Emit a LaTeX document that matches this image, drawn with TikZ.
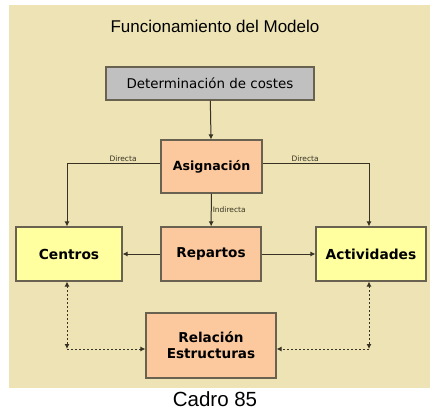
\documentclass[tikz,border=0pt]{standalone}
\usepackage{fontspec}
\setmainfont{DejaVu Sans}
\newfontfamily\arialFont{Liberation Sans}
\usetikzlibrary{arrows.meta}

\definecolor{bgColor}{RGB}{237,227,180}
\definecolor{grayColor}{RGB}{192,192,192}
\definecolor{peachColor}{RGB}{252,201,158}
\definecolor{yellowColor}{RGB}{255,255,160}
\definecolor{edgeColor}{RGB}{105,98,80}
\definecolor{lineColor}{RGB}{55,50,35}

\tikzset{
  box/.style={draw=edgeColor, line width=1.1pt, align=center, inner sep=0pt},
  costBox/.style={box, fill=grayColor, font=\fontsize{13.4}{16}\selectfont},
  peachBox/.style={box, fill=peachColor, font=\fontsize{13.6}{16}\selectfont\bfseries},
  yellowBox/.style={box, fill=yellowColor, font=\fontsize{13.8}{16}\selectfont\bfseries},
  smallLabel/.style={font=\fontsize{7.5}{9}\selectfont, text=lineColor, inner sep=1pt},
  arr/.style={draw=lineColor, line width=1pt, ->},
  dotArr/.style={arr, dash pattern=on 2pt off 2pt},
  >={Latex[length=5pt,width=5pt]}
}

\begin{document}
\begin{tikzpicture}[x=1pt, y=-1pt]
  \useasboundingbox (0,0) rectangle (430,414);
  \fill[bgColor] (9,5) rectangle (430,388);
  % Titles
  \node (title) at (215,26) {\arialFont\fontsize{17}{20}\selectfont Funcionamiento del Modelo};
  \node (caption) at (215,399) {\arialFont\fontsize{20.5}{24}\selectfont Cadro 85};
  % Boxes
  \node[costBox, minimum width=208pt, minimum height=33pt] (costes) at (210,83.5) {Determinación de costes};
  \node[peachBox, minimum width=101pt, minimum height=53pt, font=\fontsize{12.6}{15}\selectfont\bfseries] (asig) at (211.5,166.5) {Asignación};
  \node[yellowBox, minimum width=106pt, minimum height=54pt] (centros) at (69,254) {Centros};
  \node[peachBox, minimum width=100pt, minimum height=54pt] (repartos) at (211,254) {Repartos};
  \node[yellowBox, minimum width=110pt, minimum height=54pt] (activ) at (371,254) {Actividades};
  \node[peachBox, minimum width=130pt, minimum height=65pt] (relacion) at (211,345.5) {Relación\\Estructuras};
  % Corners
  \coordinate (dirL) at (67,163);
  \coordinate (dirR) at (369,163);
  \coordinate (cornerL) at (67,349);
  \coordinate (cornerR) at (369,349);
  % Arrows
  \draw[arr] (costes) -- (asig);
  \draw[arr] (asig) -- node[smallLabel, right]{Indirecta} (repartos);
  \draw[arr] (asig.west |- dirL) -- node[smallLabel, above, pos=.4]{Directa} (dirL) -- (dirL |- centros.north);
  \draw[arr] (asig.east |- dirR) -- node[smallLabel, above, pos=.4]{Directa} (dirR) -- (dirR |- activ.north);
  \draw[arr] (repartos) -- (centros);
  \draw[arr] (repartos) -- (activ);
  % Dotted
  \draw[dotArr, <->] (cornerL |- centros.south) -- (cornerL);
  \draw[dotArr] (cornerL) -- (relacion.west |- cornerL);
  \draw[dotArr, <->] (cornerR |- activ.south) -- (cornerR);
  \draw[dotArr] (cornerR) -- (relacion.east |- cornerR);
\end{tikzpicture}
\end{document}
